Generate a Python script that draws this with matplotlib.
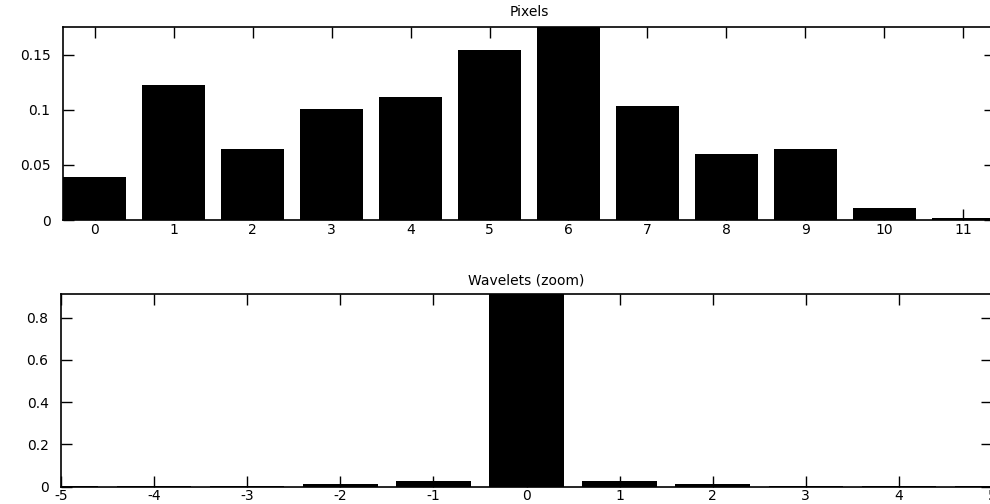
import matplotlib
matplotlib.use("Agg")
import matplotlib.pyplot as plt
import numpy as np

# Data
pixel_bins = [0, 1, 2, 3, 4, 5, 6, 7, 8, 9, 10, 11]
pixel_values = [0.0386, 0.1227, 0.0642, 0.101, 0.1115, 0.1543, 0.175,
                0.1031, 0.0594, 0.0642, 0.0106, 0.002]

wavelet_bins = [-5, -4, -3, -2, -1, 0, 1, 2, 3, 4, 5]
wavelet_values = [0.005, 0.005, 0.005, 0.011, 0.027, 0.91, 0.025,
                  0.011, 0.005, 0.005, 0.005]

plt.rcParams['font.family'] = ['DejaVu Sans']
plt.rcParams['font.size'] = 10
plt.rcParams['axes.unicode_minus'] = False

W, H = 990, 504
fig = plt.figure(figsize=(W / 100, H / 100), dpi=100)

def frac_rect(left, top, right, bottom):
    return [left / W, 1 - bottom / H, (right - left) / W, (bottom - top) / H]

ax1 = fig.add_axes(frac_rect(63, 27, 995, 220))
ax2 = fig.add_axes(frac_rect(61, 294.3, 992, 486.7))

for ax in (ax1, ax2):
    ax.tick_params(direction='in', length=8, width=1, top=True, right=True,
                   labelsize=10, colors='black')
    ax.tick_params(axis='x', pad=2)
    ax.tick_params(axis='y', pad=9)
    for s in ax.spines.values():
        s.set_linewidth(1.2)

ax1.bar(pixel_bins, pixel_values, width=0.8, color='black', edgecolor='none')
ax1.set_xlim(-0.4, 11.4)
ax1.set_ylim(0, 0.175)
ax1.set_xticks(pixel_bins)
ax1.set_yticks([0, 0.05, 0.1, 0.15])
ax1.set_yticklabels(['0', '0.05', '0.1', '0.15'])
ax1.set_title('Pixels', fontsize=10, pad=8)

ax2.bar(wavelet_bins, wavelet_values, width=0.8, color='black', edgecolor='none')
ax2.set_xlim(-5, 5)
ax2.set_ylim(0, 0.91)
ax2.set_xticks(wavelet_bins)
ax2.set_yticks([0, 0.2, 0.4, 0.6, 0.8])
ax2.set_yticklabels(['0', '0.2', '0.4', '0.6', '0.8'])
ax2.set_title('Wavelets (zoom)', fontsize=10, pad=7)

fig.savefig('out.png', dpi=100)
